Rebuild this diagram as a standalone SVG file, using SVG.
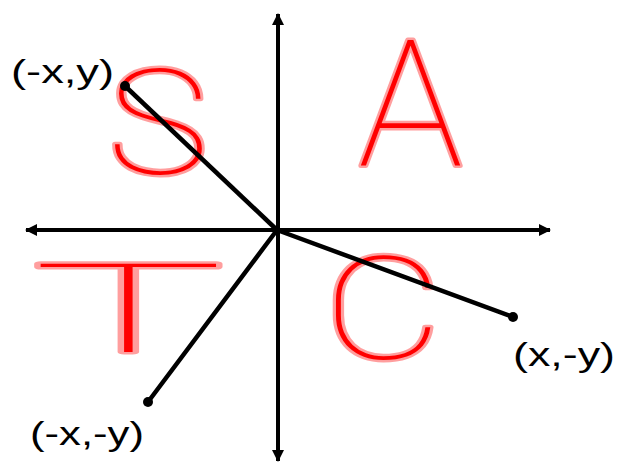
<svg xmlns="http://www.w3.org/2000/svg" width="619" height="464" viewBox="0 0 619 464">
<style>
.ax{stroke:#000;stroke-width:4;fill:none}
.seg{stroke:#000;stroke-width:4.5;fill:none;stroke-linecap:round}
.dot{fill:#000}
.lbl{font-family:"Liberation Sans",Arial,sans-serif;font-size:33px;fill:#000}
.hand{font-family:Roboto,Lato,sans-serif;font-weight:100;fill:#ff0000;stroke:rgba(255,40,40,0.45);stroke-width:5;paint-order:stroke;stroke-linejoin:round}
</style>
<defs>
<marker id="arr" markerUnits="userSpaceOnUse" markerWidth="14" markerHeight="14" refX="11" refY="7" orient="auto">
<path d="M0,1 L12,7 L0,13 Z" fill="#000"/>
</marker>
</defs>
<rect width="619" height="464" fill="#fff"/>
<g id="axes">
<line class="ax" x1="278" y1="230" x2="278" y2="14" marker-end="url(#arr)"/>
<line class="ax" x1="278" y1="230" x2="278" y2="461" marker-end="url(#arr)"/>
<line class="ax" x1="278" y1="230" x2="550" y2="230" marker-end="url(#arr)"/>
<line class="ax" x1="278" y1="230" x2="26" y2="230" marker-end="url(#arr)"/>
</g>
<g id="letters">
<text class="hand" transform="translate(107,174) scale(1.18,1)" x="0" y="0" font-size="146">S</text>
<text class="hand" x="358" y="166" font-size="176">A</text>
<text class="hand" transform="translate(32,352) scale(2.6,1)" x="0" y="0" font-size="124">T</text>
<text class="hand" transform="translate(323,359) scale(1.3,1)" x="0" y="0" font-size="142">C</text>
</g>
<g id="connectors">
<line class="seg" x1="277" y1="230" x2="125" y2="86"/>
<line class="seg" x1="277" y1="230" x2="513" y2="317"/>
<line class="seg" x1="277" y1="230" x2="148" y2="402"/>
</g>
<g id="p1"><circle class="dot" cx="125" cy="86" r="5"/><text class="lbl" x="11" y="83" textLength="103" lengthAdjust="spacingAndGlyphs">(-x,y)</text></g>
<g id="p2"><circle class="dot" cx="513" cy="317" r="5"/><text class="lbl" x="513" y="366" textLength="102" lengthAdjust="spacingAndGlyphs">(x,-y)</text></g>
<g id="p3"><circle class="dot" cx="148" cy="402" r="5"/><text class="lbl" x="30" y="445" textLength="114" lengthAdjust="spacingAndGlyphs">(-x,-y)</text></g>
</svg>
